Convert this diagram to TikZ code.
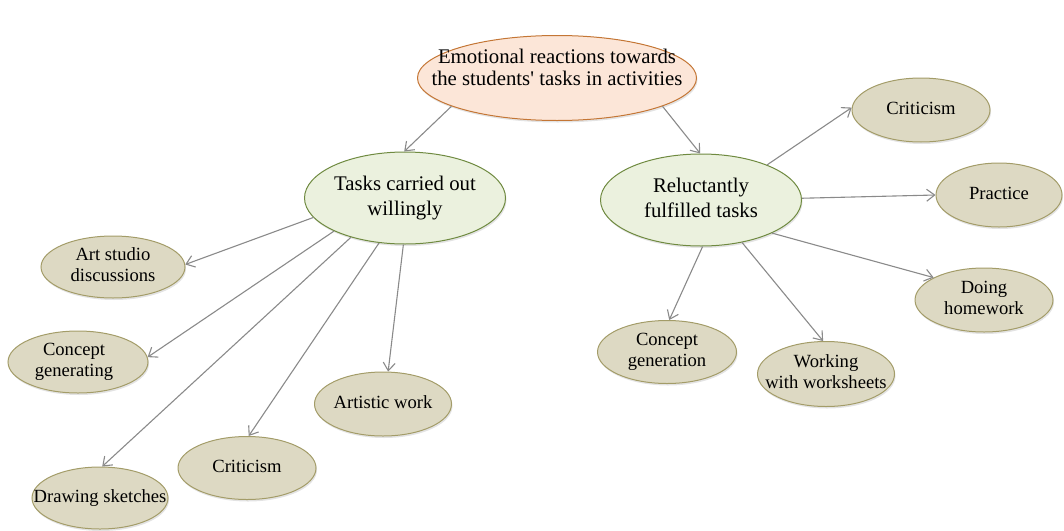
\documentclass[tikz,border=0pt]{standalone}
\usepackage{fontspec}
\setmainfont{Liberation Serif}
\usetikzlibrary{arrows.meta,shadows,shapes.geometric}
\definecolor{peachfill}{HTML}{FCE6D8}
\definecolor{peachline}{HTML}{C47635}
\definecolor{greenfill}{HTML}{EBF1DE}
\definecolor{greenline}{HTML}{6F8A40}
\definecolor{tanfill}{HTML}{DDD9C3}
\definecolor{tanline}{HTML}{A39C68}
\definecolor{arrowgray}{HTML}{8A8A8A}
\newcommand{\ztext}[1]{\makebox[0pt]{\begin{tabular}{@{}c@{}}#1\end{tabular}}}
\begin{document}
\begin{tikzpicture}[x=1pt,y=-1pt,
  base/.style={ellipse,draw,line width=1pt,inner sep=0pt,
    drop shadow={opacity=0.22,shadow xshift=1pt,shadow yshift=-2pt}},
  topnode/.style={base,fill=peachfill,draw=peachline,minimum width=279pt,minimum height=85pt,font=\fontsize{20.8}{22}\selectfont},
  midnode/.style={base,fill=greenfill,draw=greenline,minimum width=201pt,minimum height=92pt,font=\fontsize{20.8}{24.5}\selectfont},
  leaf/.style={base,fill=tanfill,draw=tanline,minimum width=138pt,minimum height=64pt,font=\fontsize{18.6}{21}\selectfont},
  arr/.style={draw=arrowgray,line width=1.1pt,-{Straight Barb[length=8pt,width=12pt]}}]
\useasboundingbox (0,0) rectangle (1064,530);

\node[topnode] (T) at (557,78) {\raisebox{2.3pt}[0pt][0pt]{\ztext{Emotional reactions towards\\the students\textquotesingle{} tasks in activities}}};
\node[midnode] (W) at (405,198) {\ztext{Tasks carried out\\willingly}};
\node[midnode] (R) at (701,200) {\ztext{Reluctantly\\fulfilled tasks}};

\node[leaf,minimum width=144pt,minimum height=62pt] (a1) at (113,267) {\ztext{Art studio\\discussions}};
\node[leaf,minimum width=140pt,minimum height=62pt] (a2) at (78,362) {\ztext{\hspace*{-8pt}Concept\\generating\hspace*{8pt}}};
\node[leaf,minimum width=136pt,minimum height=62pt] (a3) at (100,498) {\ztext{Drawing sketches}};
\node[leaf,minimum height=63pt] (a4) at (247,468) {\ztext{Criticism}};
\node[leaf,minimum width=137pt] (a5) at (383,404) {\ztext{Artistic work}};

\node[leaf] (b1) at (921,110) {\ztext{Criticism}};
\node[leaf,minimum width=126pt] (b2) at (999,195) {\ztext{Practice}};
\node[leaf] (b3) at (984,300) {\ztext{Doing\\homework}};
\node[leaf,minimum width=139pt,minimum height=63pt] (b4) at (667,352) {\ztext{Concept\\generation}};
\node[leaf,minimum width=137pt,minimum height=65pt] (b5) at (826,374) {\ztext{Working\\with worksheets}};

\draw[arr] (T.195) -- (W.91);
\draw[arr] (T.345) -- (R.91);

\draw[arr] (W.192) -- (a1.2);
\draw[arr] (W.205) -- (a2.4);
\draw[arr] (W.216) -- (a3.86);
\draw[arr] (W.240) -- (a4.87);
\draw[arr] (W.268) -- (a5.81);

\draw[arr] (R.28) -- (b1.178);
\draw[arr] (R.1) -- (b2.180);
\draw[arr] (R.335) -- (b3.156);
\draw[arr] (R.272) -- (b4.86);
\draw[arr] (R.314) -- (b5.95);
\end{tikzpicture}
\end{document}
